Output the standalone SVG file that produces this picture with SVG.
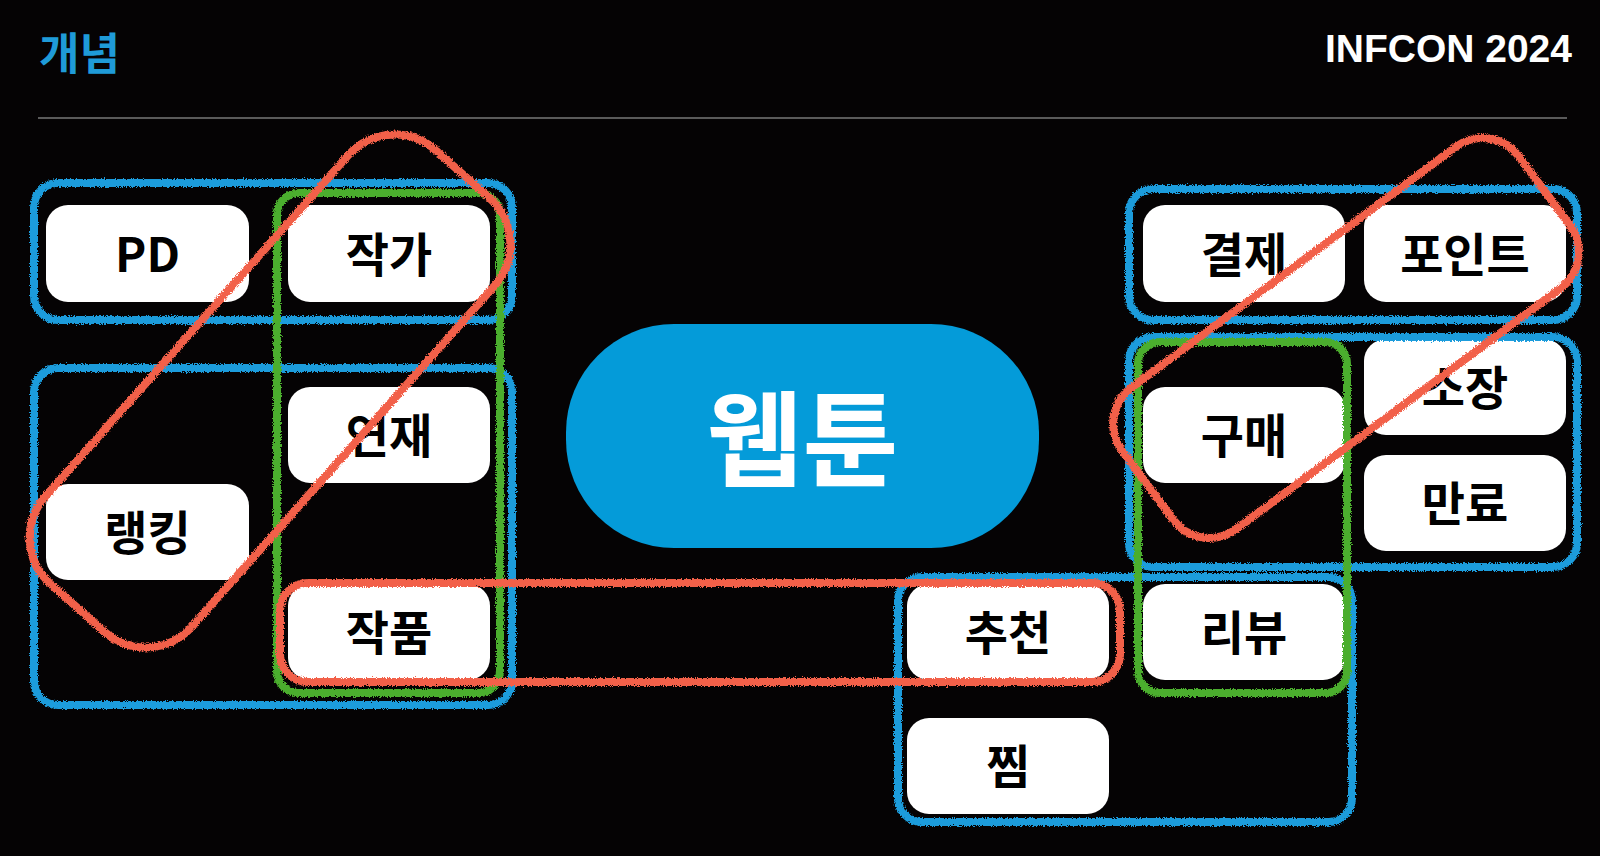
<svg xmlns="http://www.w3.org/2000/svg" width="1600" height="856" viewBox="0 0 1600 856">
  <defs>
    <filter id="chalk" x="-20%" y="-20%" width="140%" height="140%">
      <feTurbulence type="fractalNoise" baseFrequency="0.9" numOctaves="2" seed="3" result="n"/>
      <feDisplacementMap in="SourceGraphic" in2="n" scale="5" xChannelSelector="R" yChannelSelector="G"/>
    </filter>
  </defs>
  <style>
    .node rect { fill: #ffffff; }
    .node text { font-family: "Noto Sans CJK KR", "Noto Sans", sans-serif; font-weight: 700; font-size: 47px; fill: #000000; text-anchor: middle; }
    .blue { fill: none; stroke: #1b9cdc; stroke-width: 8; }
    .green { fill: none; stroke: #4bae2e; stroke-width: 8; }
    .red { fill: none; stroke: #f2604a; stroke-width: 8; }
  </style>
  <rect x="0" y="0" width="1600" height="856" fill="#050304"/>

  <g id="header">
    <text x="39" y="70" font-family="Noto Sans CJK KR, sans-serif" font-weight="700" font-size="44" fill="#1f9bd8">개념</text>
    <text x="1572" y="62" font-family="Liberation Sans, Arial, sans-serif" font-weight="700" font-size="39" fill="#ffffff" text-anchor="end">INFCON 2024</text>
    <line x1="38" y1="118" x2="1567" y2="118" stroke="#5a5a5a" stroke-width="2"/>
  </g>

  <g id="webtoon">
    <rect x="566" y="324" width="473" height="224" rx="108" ry="108" fill="#049bd9"/>
    <text x="802.5" y="479" font-family="Noto Sans CJK KR, sans-serif" font-weight="700" font-size="104" fill="#ffffff" text-anchor="middle">웹툰</text>
  </g>

  <g id="node-pd" class="node"><rect x="46" y="205" width="203" height="97" rx="22"/><text x="147.5" y="271.5">PD</text></g>
  <g id="node-author" class="node"><rect x="288" y="205" width="202" height="97" rx="22"/><text x="389" y="271.5">작가</text></g>
  <g id="node-serial" class="node"><rect x="288" y="387" width="202" height="96" rx="22"/><text x="389" y="453">연재</text></g>
  <g id="node-ranking" class="node"><rect x="46" y="484" width="203" height="96" rx="22"/><text x="147.5" y="550">랭킹</text></g>
  <g id="node-work" class="node"><rect x="288" y="584" width="202" height="96" rx="22"/><text x="389" y="650">작품</text></g>
  <g id="node-recommend" class="node"><rect x="907" y="584" width="202" height="96" rx="22"/><text x="1008" y="650">추천</text></g>
  <g id="node-like" class="node"><rect x="907" y="718" width="202" height="96" rx="22"/><text x="1008" y="784">찜</text></g>
  <g id="node-payment" class="node"><rect x="1143" y="205" width="202" height="97" rx="22"/><text x="1244" y="271.5">결제</text></g>
  <g id="node-point" class="node"><rect x="1364" y="205" width="202" height="97" rx="22"/><text x="1465" y="271.5">포인트</text></g>
  <g id="node-own" class="node"><rect x="1364" y="339" width="202" height="96" rx="22"/><text x="1465" y="405">소장</text></g>
  <g id="node-purchase" class="node"><rect x="1143" y="387" width="202" height="96" rx="22"/><text x="1244" y="453">구매</text></g>
  <g id="node-expire" class="node"><rect x="1364" y="455" width="202" height="96" rx="22"/><text x="1465" y="521">만료</text></g>
  <g id="node-review" class="node"><rect x="1143" y="584" width="202" height="96" rx="22"/><text x="1244" y="650">리뷰</text></g>

  <g id="connectors" filter="url(#chalk)">
    <g id="blue-groups">
      <rect class="blue" x="34" y="183" width="478" height="137" rx="24"/>
      <rect class="blue" x="34" y="368" width="478" height="337" rx="24"/>
      <rect class="blue" x="1129" y="189" width="448" height="131" rx="24"/>
      <rect class="blue" x="1129" y="337" width="448" height="230" rx="24"/>
      <rect class="blue" x="898" y="577" width="454" height="245" rx="24"/>
    </g>
    <g id="green-groups">
      <rect class="green" x="277" y="193" width="223" height="500" rx="22"/>
      <rect class="green" x="1138" y="342" width="209" height="351" rx="22"/>
    </g>
    <g id="red-groups">
      <rect class="red" x="280" y="583" width="840" height="99" rx="28"/>
      <g transform="translate(270,391) rotate(-48.4)">
        <rect class="red" x="-290" y="-98" width="580" height="196" rx="62"/>
      </g>
      <g transform="translate(1346,338) rotate(-36.6)">
        <rect class="red" x="-247" y="-88" width="494" height="176" rx="45"/>
      </g>
    </g>
  </g>
</svg>
